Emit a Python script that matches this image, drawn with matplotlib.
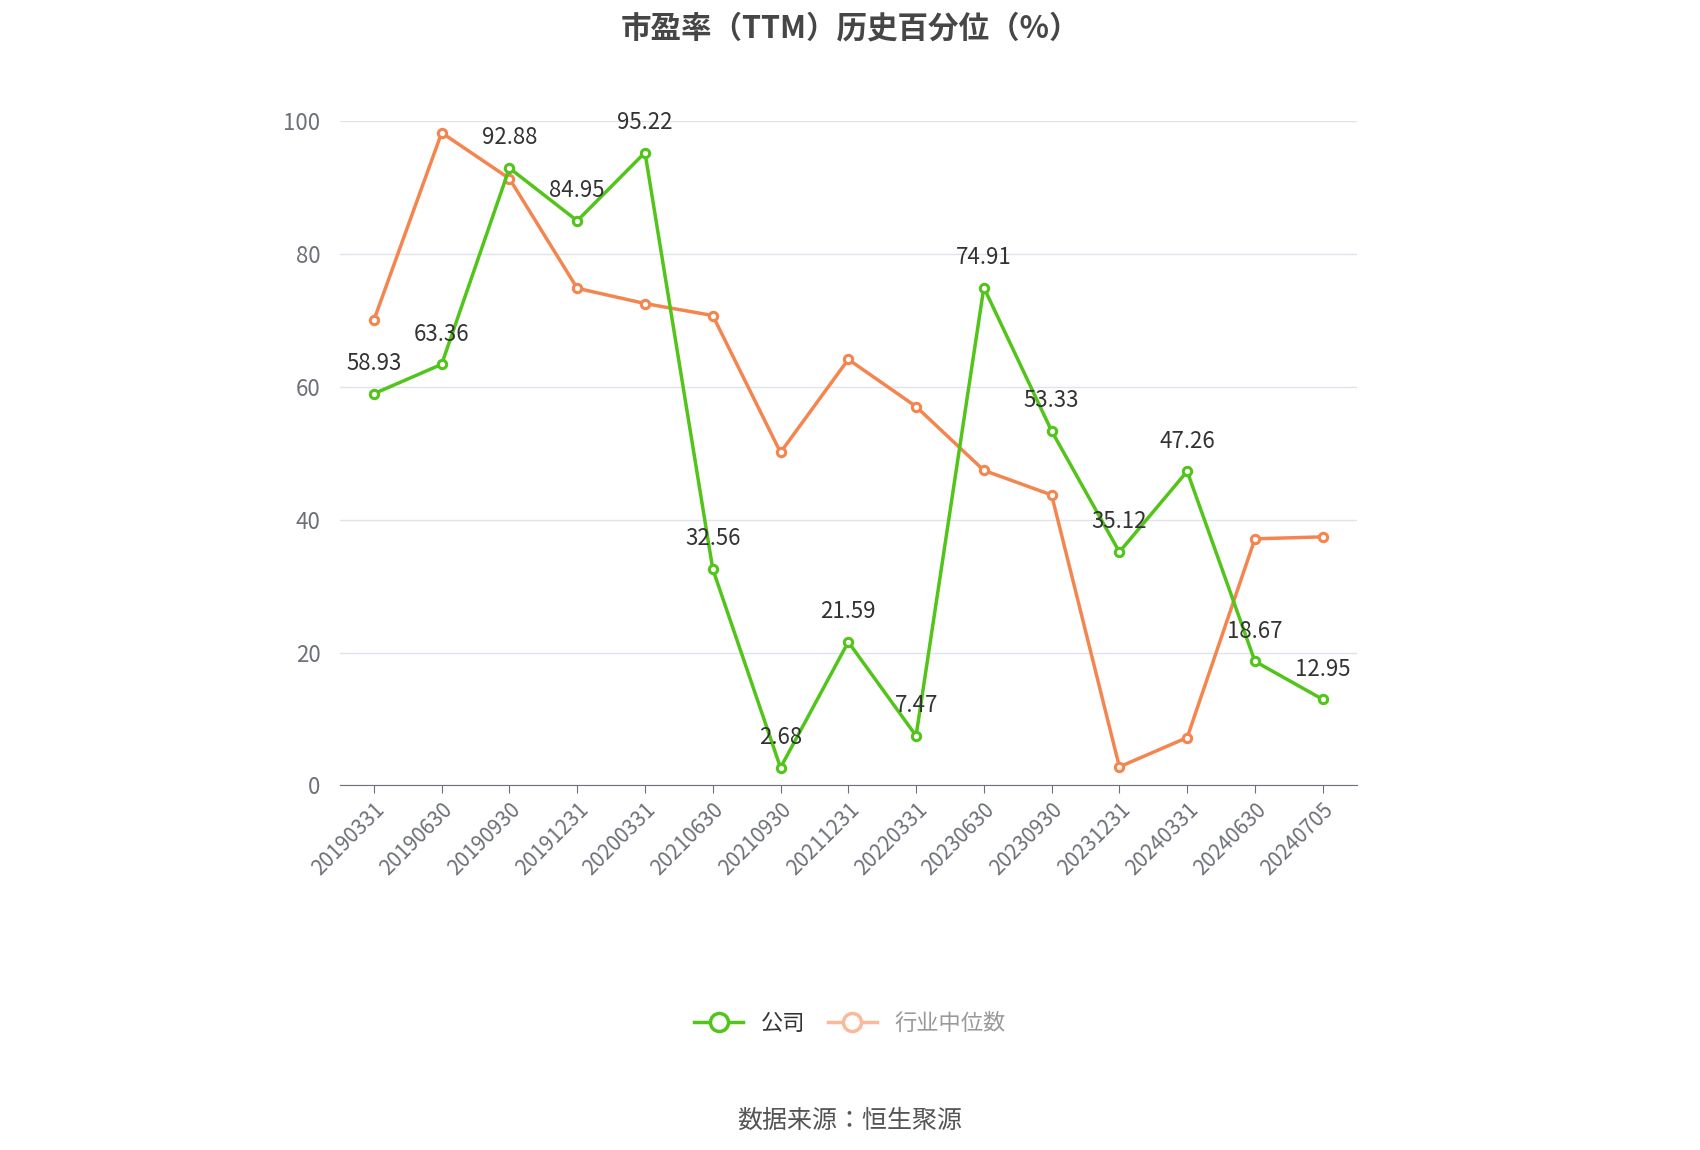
import matplotlib
matplotlib.use("Agg")
import matplotlib.pyplot as plt
from matplotlib.lines import Line2D
from matplotlib import font_manager as fm

cjk = None
for f in fm.findSystemFonts():
    if "NotoSansCJK" in f.replace(" ", "") or "NotoSansSC" in f or "notosanscjk" in f.lower():
        fm.fontManager.addfont(f)
        cjk = fm.FontProperties(fname=f).get_name()
        break
fams = ([cjk] if cjk else []) + ["Noto Sans CJK SC", "Noto Sans CJK JP", "DejaVu Sans"]
plt.rcParams["font.family"] = "sans-serif"
plt.rcParams["font.sans-serif"] = fams

dates = ["20190331","20190630","20190930","20191231","20200331","20210630","20210930",
         "20211231","20220331","20230630","20230930","20231231","20240331","20240630","20240705"]
company = [58.93,63.36,92.88,84.95,95.22,32.56,2.68,21.59,7.47,74.91,53.33,35.12,47.26,18.67,12.95]
industry = [70.0,98.2,91.3,74.8,72.5,70.7,50.1,64.1,57.0,47.4,43.7,2.8,7.2,37.1,37.4]

green = "#52c41a"
orange = "#f5854f"

fig = plt.figure(figsize=(17, 11.5), dpi=100)
ax = fig.add_axes([0.2, 0.317, 0.598, 0.578])
x = list(range(len(dates)))
ax.plot(x, industry, color=orange, lw=2.5, marker="o", ms=6, mfc="white", mec=orange, mew=2.2, zorder=3)
ax.plot(x, company, color=green, lw=2.5, marker="o", ms=6, mfc="white", mec=green, mew=2.2, zorder=4)
for xi, v in zip(x, company):
    ax.text(xi, v + 2.8, f"{v:.2f}", ha="center", va="bottom", fontsize=16, color="#333333", zorder=5)

ax.set_xlim(-0.5, len(dates) - 0.5)
ax.set_ylim(0, 100)
ax.set_yticks(range(0, 101, 20))
ax.grid(axis="y", color="#e0e3ec", lw=1)
ax.set_axisbelow(True)
for s in ["top", "right", "left"]:
    ax.spines[s].set_visible(False)
ax.spines["bottom"].set_color("#6e7079")
ax.set_xticks(x)
ax.set_xticklabels(dates, rotation=45, ha="right", rotation_mode="anchor", fontsize=15, color="#6e7079")
ax.tick_params(axis="y", length=0, labelsize=16, labelcolor="#6e7079", pad=14)
ax.tick_params(axis="x", length=6, color="#6e7079")

fig.text(0.5, 0.975, "市盈率（TTM）历史百分位（%）", ha="center", va="center", fontsize=22, fontweight="bold", color="#464646")
handles = [Line2D([], [], color=green, lw=2.5, marker="o", ms=13, mfc="white", mec=green, mew=2.5),
           Line2D([], [], color="#fbb99a", lw=2.5, marker="o", ms=13, mfc="white", mec="#fbb99a", mew=2.5)]
leg = fig.legend(handles, ["公司", "行业中位数"], loc="center", bbox_to_anchor=(0.5, 0.11),
                 ncol=2, frameon=False, fontsize=16, handlelength=2.2, columnspacing=1.0)
leg.get_texts()[0].set_color("#333333")
leg.get_texts()[1].set_color("#999999")
fig.text(0.5, 0.025, "数据来源：恒生聚源", ha="center", va="center", fontsize=18, color="#555555")
fig.savefig("out.png")
